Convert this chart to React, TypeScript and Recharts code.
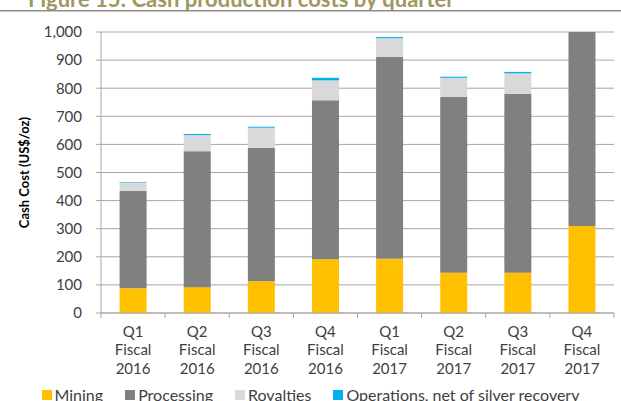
import { Bar, BarChart, CartesianGrid, Legend, XAxis, YAxis } from "recharts"

const quarters = [
  "Q1 Fiscal 2016",
  "Q2 Fiscal 2016",
  "Q3 Fiscal 2016",
  "Q4 Fiscal 2016",
  "Q1 Fiscal 2017",
  "Q2 Fiscal 2017",
  "Q3 Fiscal 2017",
  "Q4 Fiscal 2017",
]
const mining = [88, 92, 113, 191, 193, 143, 143, 310]
const processing = [346, 484, 475, 566, 718, 627, 637, 690]
const royalties = [30, 57, 71, 71, 67, 67, 73, 0]
const operations = [2, 4, 4, 9, 4, 4, 5, 0]
const yTicks = [0, 100, 200, 300, 400, 500, 600, 700, 800, 900, 1000]
const seriesNames = ["Mining", "Processing", "Royalties", "Operations, net of silver recovery"]

const data = quarters.map((quarter, i) => ({
  quarter,
  mining: mining[i],
  processing: processing[i],
  royalties: royalties[i],
  operations: operations[i],
}))

const FONT = "Lato, 'Open Sans', sans-serif"
const TEXT = "#404040"
const AXIS = "#a6a6a6"

// multi-line category label plus Excel-style tick marks on the column boundaries
function QuarterTick({ x, y, payload, index, visibleTicksCount }: any) {
  const lines = String(payload.value).split(" ")
  const half = payload.offset ?? 0
  return (
    <g>
      <line x1={x - half} x2={x - half} y1={y} y2={y + 5} stroke={AXIS} />
      {index === visibleTicksCount - 1 && <line x1={x + half} x2={x + half} y1={y} y2={y + 5} stroke={AXIS} />}
      <text x={x} y={y} textAnchor="middle" fill={TEXT} fontSize={15} fontFamily={FONT}>
        {lines.map((line, i) => (
          <tspan key={i} x={x} dy={i === 0 ? 24 : 18.3}>
            {line}
          </tspan>
        ))}
      </text>
    </g>
  )
}

function LegendContent({ payload }: any) {
  const items = [...(payload || [])].sort(
    (a: any, b: any) => seriesNames.indexOf(a.value) - seriesNames.indexOf(b.value)
  )
  return (
    <div style={{ display: "flex", justifyContent: "center", gap: 22, fontFamily: FONT, fontSize: 16, color: TEXT }}>
      {items.map((p: any) => (
        <div key={p.value} style={{ display: "flex", alignItems: "center", gap: 3, lineHeight: "20px" }}>
          <span style={{ width: 10, height: 10, background: p.color, display: "inline-block" }} />
          <span>{p.value}</span>
        </div>
      ))}
    </div>
  )
}

function YLabel({ viewBox }: any) {
  const cy = viewBox.y + viewBox.height / 2
  return (
    <text
      x={24}
      y={cy}
      transform={`rotate(-90 24 ${cy})`}
      textAnchor="middle"
      dominantBaseline="central"
      fontSize={13}
      fontWeight="bold"
      fontFamily={FONT}
      fill="#000"
    >
      Cash Cost (US$/oz)
    </text>
  )
}

export default function App() {
  return (
    <div style={{ position: "absolute", left: 0, top: 0, width: 621, height: 401, overflow: "hidden", background: "#fff" }}>
      <svg width={621} height={20} style={{ position: "absolute", left: 0, top: 0 }}>
        <text x={28} y={6.5} fontSize={22} fontWeight="bold" fontFamily={FONT} fill="#9e985e">
          Figure 15:  Cash production costs by quarter
        </text>
        <line x1={0} x2={621} y1={10.75} y2={10.75} stroke="#8c8c8c" strokeWidth={1.5} />
      </svg>
      <BarChart
        width={621}
        height={401}
        data={data}
        margin={{ top: 32, right: 7, left: 0, bottom: 0 }}
        barCategoryGap="29%"
      >
        <CartesianGrid vertical={false} stroke={AXIS} strokeWidth={1} />
        <XAxis
          dataKey="quarter"
          interval={0}
          height={88}
          tickLine={false}
          tickSize={0}
          tickMargin={0}
          axisLine={{ stroke: AXIS }}
          tick={<QuarterTick />}
        />
        <YAxis
          width={101}
          domain={[0, 1000]}
          ticks={yTicks}
          interval={0}
          tickFormatter={(v: number) => v.toLocaleString("en-US")}
          tick={{ fill: TEXT, fontSize: 15, fontFamily: FONT }}
          tickLine={{ stroke: AXIS }}
          tickSize={5}
          tickMargin={14}
          axisLine={{ stroke: AXIS }}
          label={<YLabel />}
        />
        <Legend
          verticalAlign="middle"
          content={<LegendContent />}
          wrapperStyle={{ top: 385, left: 0, width: 621 }}
        />
        <Bar dataKey="mining" name={seriesNames[0]} stackId="cost" fill="#ffc000" isAnimationActive={false} />
        <Bar dataKey="processing" name={seriesNames[1]} stackId="cost" fill="#808080" isAnimationActive={false} />
        <Bar dataKey="royalties" name={seriesNames[2]} stackId="cost" fill="#d9d9d9" isAnimationActive={false} />
        <Bar dataKey="operations" name={seriesNames[3]} stackId="cost" fill="#00b0f0" isAnimationActive={false} />
      </BarChart>
    </div>
  )
}
